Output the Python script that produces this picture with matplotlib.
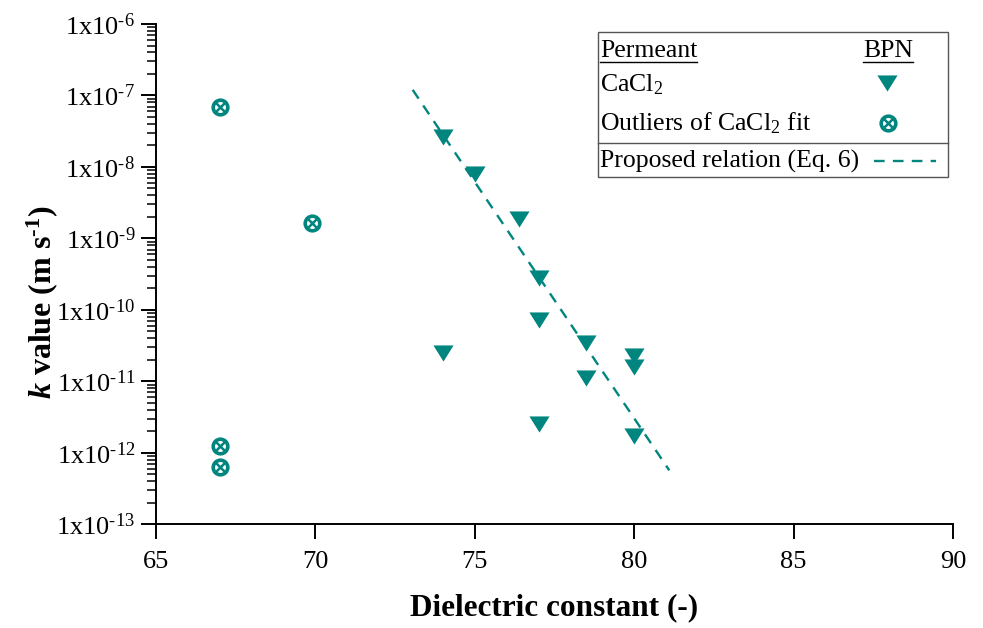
import numpy as np
import matplotlib.pyplot as plt
from matplotlib.patches import Rectangle
from matplotlib.ticker import FixedLocator, FuncFormatter, LogLocator

plt.rcParams['font.family'] = 'Liberation Serif'
plt.rcParams['mathtext.fontset'] = 'custom'
plt.rcParams['mathtext.rm'] = 'Liberation Serif'
plt.rcParams['mathtext.it'] = 'Liberation Serif:italic:bold'
plt.rcParams['mathtext.bf'] = 'Liberation Serif:bold'

# CaCl2 (BPN) points
cacl2_x = [74, 75, 76.4, 77, 77, 78.5, 78.5, 80, 80, 80, 74, 77]
cacl2_k = [2.6e-8, 8e-9, 1.9e-9, 2.8e-10, 7.3e-11, 3.4e-11, 1.1e-11,
           2.3e-11, 1.6e-11, 1.7e-12, 2.5e-11, 2.5e-12]

# outliers of the CaCl2 fit
out_x = [67, 69.9, 67, 67]
out_k = [6.8e-8, 1.66e-9, 1.26e-12, 6.4e-13]

# proposed relation (Eq. 6), straight line on log axis
fit_x = [73.05, 81.1]
fit_k = [1.2e-7, 5.7e-13]

teal = '#00857f'
tri = [(-1, 0.8), (1, 0.8), (0, -0.8), (-1, 0.8)]

fig = plt.figure(figsize=(9.83, 6.28), dpi=100)
ax = fig.add_axes([0.1587, 0.165, 0.8108, 0.7968])

ax.plot(fit_x, fit_k, ls=(0, (4.5, 3.5)), color=teal, lw=1.7, zorder=2)
ax.plot(cacl2_x, cacl2_k, ls='none', marker=tri, ms=14.5, color=teal, mec='none', zorder=3)
ax.plot(out_x, out_k, ls='none', marker='o', ms=10.5, mfc='none', mec=teal, mew=2.6, zorder=3)
ax.plot(out_x, out_k, ls='none', marker='x', ms=7, mec=teal, mew=1.8, zorder=3)

ax.set_yscale('log')
ax.set_xlim(65, 90)
ax.set_ylim(1e-13, 1e-6)
ax.xaxis.set_major_locator(FixedLocator([65, 70, 75, 80, 85, 90]))
ax.yaxis.set_major_locator(LogLocator(base=10, numticks=20))
ax.yaxis.set_minor_locator(LogLocator(base=10, subs=np.arange(2, 10), numticks=20))
ax.yaxis.set_major_formatter(FuncFormatter(
    lambda v, p: r'1x10$^{\text{-}%d}$' % abs(round(np.log10(v)))))
ax.yaxis.set_minor_formatter(FuncFormatter(lambda v, p: ''))

for s in ['top', 'right']:
    ax.spines[s].set_visible(False)
for s in ['left', 'bottom']:
    ax.spines[s].set_linewidth(1.4)
ax.tick_params(which='major', direction='out', length=11, width=1.4, labelsize=19)
ax.tick_params(which='minor', direction='out', length=6.5, width=1.1)
ax.tick_params(axis='x', pad=8)
ax.tick_params(axis='y', pad=4)

ax.set_xlabel('Dielectric constant (-)', fontsize=22.5, fontweight='bold', labelpad=15)
ax.set_ylabel(r'$k$ value (m s$^{\mathbf{\text{-}1}}$)', fontsize=23, fontweight='bold')
ax.yaxis.set_label_coords(-0.12, 0.444)

# hand-made legend box
def ax_x(px):
    return (px - 156) / 797.0

def ax_y(py):
    return (524.3 - py) / 500.3

tr = ax.transAxes
ax.add_patch(Rectangle((ax_x(598), ax_y(177)), ax_x(948) - ax_x(598), ax_y(31.7) - ax_y(177),
                       transform=tr, fill=False, lw=1.0, ec='#555555', clip_on=False, zorder=4))
ax.plot([ax_x(598), ax_x(948)], [ax_y(143), ax_y(143)], transform=tr, color='#555555', lw=1.0,
        clip_on=False, zorder=4)

lfs = 18.5
t1 = ax.text(ax_x(600), ax_y(57), 'Permeant', transform=tr, fontsize=lfs, va='baseline')
t2 = ax.text(ax_x(888), ax_y(57), 'BPN', transform=tr, fontsize=lfs, va='baseline', ha='center')
ax.text(ax_x(600), ax_y(91), r'CaCl$_2$', transform=tr, fontsize=lfs, va='baseline')
ax.text(ax_x(600), ax_y(130), r'Outliers of CaCl$_2$ fit', transform=tr, fontsize=lfs, va='baseline')
ax.text(ax_x(600), ax_y(168), 'Proposed relation (Eq. 6)', transform=tr, fontsize=lfs, va='baseline')

ax.plot([ax_x(887)], [ax_y(83)], transform=tr, marker=tri, ms=14.5, color=teal, mec='none',
        clip_on=False, zorder=5)
ax.plot([ax_x(888)], [ax_y(123)], transform=tr, marker='o', ms=10.5, mfc='none', mec=teal, mew=2.6,
        clip_on=False, zorder=5)
ax.plot([ax_x(888)], [ax_y(123)], transform=tr, marker='x', ms=7, mec=teal, mew=1.8,
        clip_on=False, zorder=5)
ax.plot([ax_x(874), ax_x(936)], [ax_y(161), ax_y(161)], transform=tr, ls=(0, (4.5, 3.5)),
        color=teal, lw=1.7, clip_on=False, zorder=5)

# underline the header words
fig.canvas.draw()
inv = ax.transAxes.inverted()
for t in (t1, t2):
    bb = t.get_window_extent()
    (x0, _), (x1, _) = inv.transform([(bb.x0, 0), (bb.x1, 0)])
    ax.plot([x0, x1], [ax_y(62), ax_y(62)], transform=tr, color='black', lw=1.0,
            clip_on=False, zorder=5)

fig.savefig('out.png', dpi=100)
